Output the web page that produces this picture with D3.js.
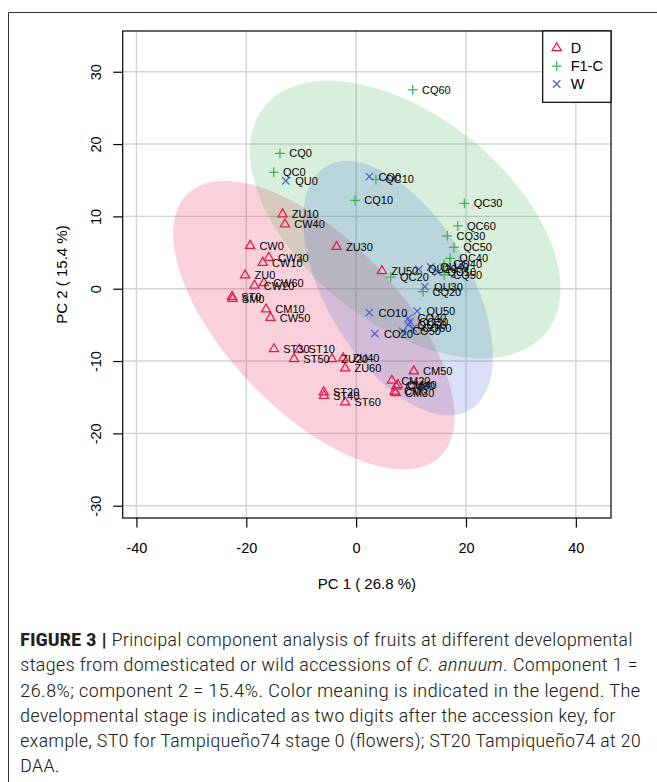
<!DOCTYPE html>
<html>
<head>
<meta charset="utf-8">
<script src="https://cdn.jsdelivr.net/npm/d3@7"></script>
<style>
  html, body { margin: 0; padding: 0; background: #fff; }
  svg { display: block; }
</style>
</head>
<body>
<svg id="fig" width="657" height="782"></svg>
<script>
// ---- PCA scores per sample group ----
const groupNames = ["D", "F1-C", "W"];
const groupColors = ["#e6194B", "#3cb44b", "#4363d8"];

const dLabels = ["ZU10","CW40","CW0","CW30","CW10","ZU0","CW20","CW60","ST0","SM0","CM10","CW50","ZU30",
                 "ST30","ST10","ST50","ZU20","ZU40","ZU60","CM50","CM20","CM40","CM60","CM30","CM0",
                 "ST20","ST40","ST60","ZU50"];
const dPC1 = [-13.4,-12.96,-19.3,-15.9,-17.0,-20.2,-18.5,-16.8,-22.6,-22.5,-16.4,-15.6,-3.55,
              -14.96,-10.35,-11.3,-4.4,-2.35,-2.0,10.5,6.5,7.6,7.3,7.2,7.0,
              -5.9,-5.86,-2.0,4.7];
const dPC2 = [10.3,8.9,5.95,4.3,3.6,1.85,0.44,0.79,-1.1,-1.4,-2.85,-4.0,5.8,
              -8.34,-8.4,-9.7,-9.7,-9.6,-11.0,-11.4,-12.7,-13.3,-13.5,-14.4,-14.2,
              -14.3,-14.8,-15.7,2.45];

const fLabels = ["CQ0","QC0","CQ10","QC10","QC30","QC60","CQ30","QC50","QC40","CQ40","QC20","CQ50","CQ20","CQ60"];
const fPC1 = [-13.87,-15.0,-0.2,3.6,19.7,18.5,16.6,17.8,17.1,16.0,6.3,16.0,12.2,10.3];
const fPC2 = [18.7,16.1,12.2,15.1,11.8,8.7,7.3,5.7,4.2,3.4,1.6,1.9,-0.4,27.5];

const wLabels = ["QU0","CO0","QU20","QU40","QU10","QU30","CO10","CO20","QU50","CO40","CO30","QU60","CO60","CO50"];
const wPC1 = [-12.8,2.4,11.4,13.6,14.9,12.5,2.4,3.4,11.1,9.5,9.8,9.5,10.4,8.5];
const wPC2 = [14.9,15.5,2.7,3.0,2.3,0.3,-3.3,-6.2,-3.1,-4.1,-4.6,-5.0,-5.5,-5.9];

// ---- axes ----
const xDomain = [-42.5, 46.4];
const yDomain = [-31.7, 35.63];
const xTicks = [-40, -20, 0, 20, 40];
const yTicks = [-30, -20, -10, 0, 10, 20, 30];
const xTitle = "PC 1 ( 26.8 %)";
const yTitle = "PC 2 ( 15.4 %)";
const ellipseLevel = 0.95;

// ---- caption ----
const captionLines = [
  [{t: "FIGURE 3 |", b: true}, {t: " Principal component analysis of fruits at different developmental"}],
  [{t: "stages from domesticated or wild accessions of "}, {t: "C. annuum", i: true}, {t: ". Component 1 ="}],
  [{t: "26.8%; component 2 = 15.4%. Color meaning is indicated in the legend. The"}],
  [{t: "developmental stage is indicated as two digits after the accession key, for"}],
  [{t: "example, ST0 for Tampique\u00f1o74 stage 0 (flowers); ST20 Tampique\u00f1o74 at 20"}],
  [{t: "DAA."}]
];

const groups = [
  {name: groupNames[0], color: groupColors[0], shape: "triangle", labels: dLabels, pc1: dPC1, pc2: dPC2},
  {name: groupNames[1], color: groupColors[1], shape: "plus",     labels: fLabels, pc1: fPC1, pc2: fPC2},
  {name: groupNames[2], color: groupColors[2], shape: "cross",    labels: wLabels, pc1: wPC1, pc2: wPC2}
];

const FONT = "'Liberation Sans', Arial, Helvetica, sans-serif";
const svg = d3.select("#fig");
svg.append("rect").attr("width", 657).attr("height", 782).attr("fill", "#fff");

// figure frame
svg.append("path").attr("d", "M8.5,800 V12.5 H700")
  .attr("fill", "none").attr("stroke", "#333").attr("stroke-width", 1);

const plot = {left: 122.7, right: 611, top: 31, bottom: 518};
const x = d3.scaleLinear().domain(xDomain).range([plot.left, plot.right]);
const y = d3.scaleLinear().domain(yDomain).range([plot.bottom, plot.top]);

// grid
const grid = svg.append("g").attr("stroke", "#d3d3d3").attr("stroke-width", 1.4);
grid.selectAll("line.gx").data(xTicks).join("line").attr("class", "gx")
  .attr("x1", d => x(d)).attr("x2", d => x(d)).attr("y1", plot.top).attr("y2", plot.bottom);
grid.selectAll("line.gy").data(yTicks).join("line").attr("class", "gy")
  .attr("y1", d => y(d)).attr("y2", d => y(d)).attr("x1", plot.left).attr("x2", plot.right);

// 95% confidence ellipse of each group (same construction as ellipse::ellipse)
function confidenceEllipse(xs, ys, level, n = 100) {
  const mx = d3.mean(xs), my = d3.mean(ys);
  const sx = d3.deviation(xs), sy = d3.deviation(ys);
  let cov = 0;
  for (let i = 0; i < xs.length; i++) cov += (xs[i] - mx) * (ys[i] - my);
  cov /= (xs.length - 1);
  const r = cov / (sx * sy);
  const d = Math.acos(r);
  const t = Math.sqrt(-2 * Math.log(1 - level)); // chi-square quantile, 2 df
  return d3.range(n).map(i => {
    const a = 2 * Math.PI * i / (n - 1);
    return [mx + t * sx * Math.cos(a + d / 2), my + t * sy * Math.cos(a - d / 2)];
  });
}
const line = d3.line().x(p => x(p[0])).y(p => y(p[1]));
groups.forEach(g => {
  svg.append("path")
    .attr("d", line(confidenceEllipse(g.pc1, g.pc2, ellipseLevel)) + "Z")
    .attr("fill", g.color).attr("fill-opacity", 0.2).attr("stroke", "none");
});

// symbols
function symbolPath(shape) {
  if (shape === "triangle") { const r = 5.3, h = r * Math.sqrt(3) / 2; return `M0,${-r}L${h},${r/2}L${-h},${r/2}Z`; }
  if (shape === "plus") { const s = 4.9; return `M${-s},0H${s}M0,${-s}V${s}`; }
  const c = 3.7; return `M${-c},${-c}L${c},${c}M${-c},${c}L${c},${-c}`;
}

const pts = svg.append("g");
groups.forEach(g => {
  pts.selectAll(null).data(g.pc1.map((v, i) => ({x: v, y: g.pc2[i]}))).join("path")
    .attr("transform", d => `translate(${x(d.x)},${y(d.y)})`)
    .attr("d", symbolPath(g.shape))
    .attr("fill", "none").attr("stroke", g.color).attr("stroke-width", 1.25);
});
const labs = svg.append("g").attr("font-family", FONT).attr("font-size", 11).attr("fill", "#000");
groups.forEach(g => {
  labs.selectAll(null).data(g.labels.map((l, i) => ({l, x: g.pc1[i], y: g.pc2[i]}))).join("text")
    .attr("x", d => x(d.x) + 9.3).attr("y", d => y(d.y) + 4).text(d => d.l);
});

// box
svg.append("rect").attr("x", plot.left).attr("y", plot.top)
  .attr("width", plot.right - plot.left).attr("height", plot.bottom - plot.top)
  .attr("fill", "none").attr("stroke", "#000").attr("stroke-width", 1.2);

// axes (plain hyphen for negatives)
const fmt = d => String(d);
const xAxis = svg.append("g").attr("transform", `translate(0,${plot.bottom})`)
  .call(d3.axisBottom(x).tickValues(xTicks).tickSizeInner(9.5).tickSizeOuter(0).tickPadding(0).tickFormat(fmt));
xAxis.select(".domain").remove();
xAxis.selectAll("line").attr("stroke", "#000").attr("stroke-width", 1.2);
xAxis.selectAll("text").attr("font-family", FONT).attr("font-size", 14.5).attr("fill", "#000")
  .attr("y", 35.2).attr("dy", null);

const yAxis = svg.append("g").attr("transform", `translate(${plot.left},0)`)
  .call(d3.axisLeft(y).tickValues(yTicks).tickSizeInner(9.5).tickSizeOuter(0).tickPadding(0).tickFormat(fmt));
yAxis.select(".domain").remove();
yAxis.selectAll("line").attr("stroke", "#000").attr("stroke-width", 1.2);
yAxis.selectAll("text").attr("font-family", FONT).attr("font-size", 14.5).attr("fill", "#000")
  .attr("x", null).attr("dy", null).attr("text-anchor", "middle")
  .attr("transform", "translate(-22,0) rotate(-90)").attr("y", 0);

svg.append("text").attr("x", (plot.left + plot.right) / 2).attr("y", 589.4)
  .attr("text-anchor", "middle").attr("font-family", FONT).attr("font-size", 15).text(xTitle);
svg.append("text").attr("transform", `translate(67.4,${(plot.top + plot.bottom) / 2}) rotate(-90)`)
  .attr("text-anchor", "middle").attr("font-family", FONT).attr("font-size", 15).text(yTitle);

// legend
const lg = {w: 68.3, h: 71.3};
const legend = svg.append("g").attr("transform", `translate(${plot.right - lg.w},${plot.top})`);
legend.append("rect").attr("width", lg.w).attr("height", lg.h)
  .attr("fill", "#fff").attr("stroke", "#000").attr("stroke-width", 1.2);
groups.forEach((g, i) => {
  const cy = 17 + i * 18;
  legend.append("path").attr("transform", `translate(14,${cy})`).attr("d", symbolPath(g.shape))
    .attr("fill", "none").attr("stroke", g.color).attr("stroke-width", 1.25);
  legend.append("text").attr("x", 28).attr("y", cy + 5.2).attr("font-family", FONT)
    .attr("font-size", 14.5).text(g.name);
});

// caption, each line fitted to its measured width
const capFont = "'Roboto Condensed', 'Liberation Sans', sans-serif";
const capLeft = 20, capTop = 646, capStep = 25.3;
const capRight = [633, 638, 641, 616, 641, null];
const scales = [];
const capNodes = captionLines.map((segs, li) => {
  const t = svg.append("text").attr("x", capLeft).attr("y", capTop + li * capStep)
    .attr("font-family", capFont).attr("font-size", 18).attr("font-weight", 300).attr("fill", "#231f20");
  segs.forEach(s => {
    const ts = t.append("tspan").text(s.t);
    if (s.b) ts.attr("font-weight", "bold");
    if (s.i) ts.attr("font-style", "italic");
  });
  return t;
});
capNodes.forEach((t, li) => {
  if (capRight[li] != null) {
    const w = t.node().getComputedTextLength();
    scales.push((capRight[li] - capLeft) / w);
  }
});
const meanScale = d3.mean(scales);
capNodes.forEach((t, li) => {
  const w = t.node().getComputedTextLength();
  const s = capRight[li] != null ? (capRight[li] - capLeft) / w : meanScale;
  t.attr("transform", `translate(${capLeft},0) scale(${s},1) translate(${-capLeft},0)`);
});
</script>
</body>
</html>
